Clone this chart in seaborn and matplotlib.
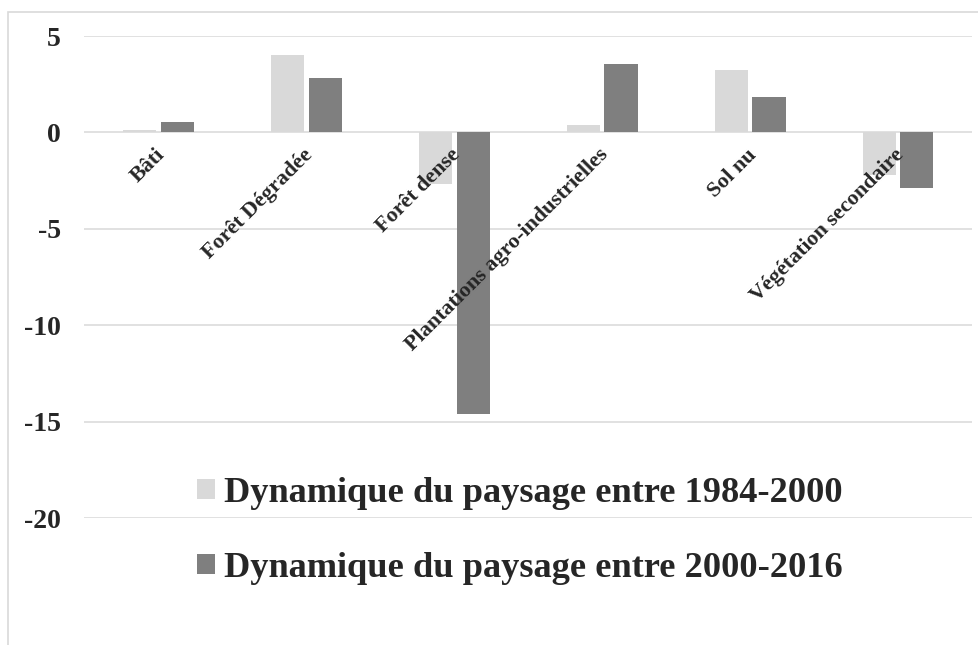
import matplotlib
matplotlib.use("Agg")
from matplotlib import pyplot as plt
from matplotlib.patches import Rectangle
import matplotlib.transforms as mtrans
import pandas as pd
import seaborn as sns

# donnees
categories = ["Bâti", "Forêt Dégradée", "Forêt dense",
              "Plantations agro-industrielles", "Sol nu",
              "Végétation secondaire"]
series_names = ["Dynamique du paysage entre 1984-2000",
                "Dynamique du paysage entre 2000-2016"]
dyn_1984_2000 = [0.1, 4.0, -2.7, 0.38, 3.23, -2.2]
dyn_2000_2016 = [0.55, 2.84, -14.6, 3.57, 1.83, -2.9]
y_ticks = [-20, -15, -10, -5, 0, 5]

colors = ["#d9d9d9", "#7f7f7f"]
grid_color = "#d9d9d9"

# format long pour seaborn
df = pd.DataFrame({
    "classe": categories * 2,
    "valeur": dyn_1984_2000 + dyn_2000_2016,
    "periode": [series_names[0]] * len(categories)
    + [series_names[1]] * len(categories),
})

sns.set_theme(style="white")
plt.rcParams["font.family"] = ["Liberation Serif", "DejaVu Serif"]
plt.rcParams["font.weight"] = "bold"
plt.rcParams["axes.unicode_minus"] = False

W, H = 979, 645
fig = plt.figure(figsize=(W / 100, H / 100), dpi=100)
ax = fig.add_axes([84.5 / W, 1 - 518 / H, (972 - 84.5) / W, (518 - 36) / H])

# quadrillage sous les barres (les etiquettes restent au-dessus)
for t in y_ticks:
    ax.axhline(t, color=grid_color, linewidth=1.1, zorder=0.5)

sns.barplot(data=df, x="classe", y="valeur", hue="periode",
            palette=colors, saturation=1, width=0.51, gap=0.12,
            linewidth=0, ax=ax, zorder=2)

ax.set_ylim(-20, 5)
ax.set_yticks(y_ticks)
ax.set_yticklabels([str(t) for t in y_ticks], fontsize=20, fontweight="bold")
ax.set_xlim(-0.5, len(categories) - 0.5)
ax.set_xlabel("")
ax.set_ylabel("")
ax.grid(False)
ax.set_axisbelow(False)

for side in ["top", "right", "left", "bottom"]:
    ax.spines[side].set_visible(False)
# etiquettes des categories sur l'axe 0
ax.spines["bottom"].set_position(("data", 0))

ax.tick_params(axis="y", length=0, pad=17)
ax.tick_params(axis="x", length=0, pad=9)
shift = mtrans.ScaledTranslation(-4 / 100, 0, fig.dpi_scale_trans)
for lab in ax.get_xticklabels():
    lab.set_rotation(45)
    lab.set_ha("right")
    lab.set_va("top")
    lab.set_rotation_mode("anchor")
    lab.set_fontsize(15.8)
    lab.set_fontweight("bold")
    lab.set_transform(lab.get_transform() + shift)

# legende
handles, labels = ax.get_legend_handles_labels()
ax.get_legend().remove()
fig.legend(handles, labels, loc="upper left",
           bbox_to_anchor=(197 / W, 1 - 477 / H), frameon=False,
           prop={"size": 26.2, "weight": "bold"}, borderpad=0,
           borderaxespad=0, handlelength=0.5, handleheight=0.5,
           handletextpad=0.25, labelspacing=1.15)

# bordure de la zone du graphique
fig.add_artist(Rectangle((8 / W, -0.1), 1.2, 1.1 - 12 / H,
                         transform=fig.transFigure, fill=False,
                         edgecolor=grid_color, linewidth=1.2))

plt.savefig("out.png", dpi=100)
